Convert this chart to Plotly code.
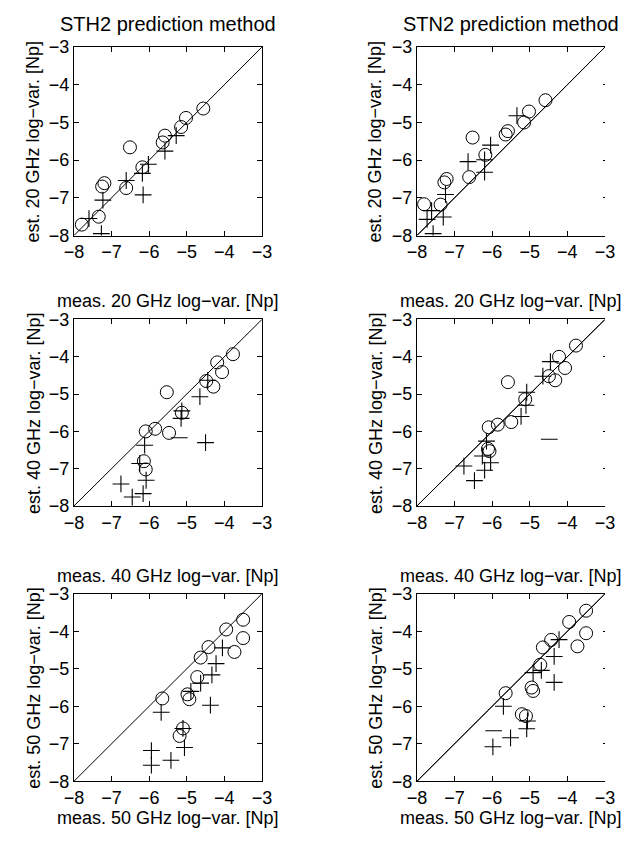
import plotly.graph_objects as go

W, H = 643, 845
AXIS_RANGE = [-8, -3]
TICKS = [-8, -7, -6, -5, -4, -3]

METHODS = ["STH2", "STN2"]
FREQS = [20, 40, 50]

# ---- STH2, 20 GHz ----
sth2_20_circ_x = [-7.79, -7.34, -7.25, -7.19, -6.61, -6.51, -6.18, -5.64, -5.58, -5.15, -5.02, -4.56]
sth2_20_circ_y = [-7.71, -7.50, -6.70, -6.61, -6.74, -5.66, -6.19, -5.53, -5.35, -5.12, -4.88, -4.63]
sth2_20_plus_x = [-7.60, -7.27, -7.23, -6.61, -6.16, -6.18, -6.02, -5.58, -5.28]
sth2_20_plus_y = [-7.55, -7.95, -7.06, -6.54, -6.92, -6.35, -6.11, -5.76, -5.35]
sth2_20_dash_x = []
sth2_20_dash_y = []

# ---- STN2, 20 GHz ----
stn2_20_circ_x = [-7.81, -7.37, -7.27, -7.21, -6.61, -6.52, -6.18, -5.64, -5.58, -5.15, -5.02, -4.58]
stn2_20_circ_y = [-7.17, -7.18, -6.59, -6.50, -6.45, -5.40, -5.86, -5.32, -5.23, -5.00, -4.71, -4.41]
stn2_20_plus_x = [-7.61, -7.73, -7.57, -7.30, -7.24, -6.64, -6.20, -6.20, -6.04, -5.34]
stn2_20_plus_y = [-7.34, -7.57, -7.95, -7.51, -6.91, -6.04, -6.32, -5.99, -5.60, -4.82]
stn2_20_dash_x = []
stn2_20_dash_y = []

# ---- STH2, 40 GHz ----
sth2_40_circ_x = [-6.14, -6.09, -6.09, -5.84, -5.53, -5.47, -5.13, -4.48, -4.29, -4.19, -4.06, -3.77]
sth2_40_circ_y = [-6.80, -7.02, -6.00, -5.93, -4.95, -6.04, -5.50, -4.65, -4.80, -4.15, -4.41, -3.93]
sth2_40_plus_x = [-6.75, -6.45, -6.16, -6.08, -6.25, -6.12, -5.15, -5.13, -4.65, -4.44, -4.50]
sth2_40_plus_y = [-7.41, -7.76, -7.67, -7.31, -6.86, -6.37, -5.65, -5.45, -5.07, -4.63, -6.30]
sth2_40_dash_x = [-5.20]
sth2_40_dash_y = [-6.17]

# ---- STN2, 40 GHz ----
stn2_40_circ_x = [-6.11, -6.07, -6.09, -5.85, -5.58, -5.49, -5.12, -4.49, -4.32, -4.22, -4.06, -3.77]
stn2_40_circ_y = [-6.47, -6.53, -5.89, -5.82, -4.68, -5.75, -5.14, -4.52, -4.63, -4.00, -4.30, -3.70]
stn2_40_plus_x = [-6.75, -6.47, -6.20, -6.04, -6.26, -6.15, -5.23, -5.10, -5.08, -4.65, -4.45]
stn2_40_plus_y = [-6.93, -7.32, -7.04, -6.84, -6.66, -6.26, -5.60, -5.30, -4.95, -4.52, -4.13]
stn2_40_dash_x = [-4.48]
stn2_40_dash_y = [-6.21]

# ---- STH2, 50 GHz ----
sth2_50_circ_x = [-5.65, -5.19, -5.10, -4.98, -4.93, -4.72, -4.63, -4.42, -3.95, -3.73, -3.50, -3.50]
sth2_50_circ_y = [-5.79, -6.79, -6.59, -5.68, -5.81, -5.22, -4.70, -4.42, -3.95, -4.55, -4.18, -3.69]
sth2_50_plus_x = [-5.94, -5.94, -5.42, -5.06, -5.68, -5.10, -4.89, -4.63, -4.33, -4.22, -4.37, -4.05]
sth2_50_plus_y = [-7.18, -7.57, -7.44, -7.10, -6.16, -6.59, -5.60, -5.38, -5.16, -4.86, -5.97, -4.44]
sth2_50_dash_x = []
sth2_50_dash_y = []

# ---- STN2, 50 GHz ----
stn2_50_circ_x = [-5.64, -5.21, -5.10, -4.95, -4.91, -4.72, -4.65, -4.43, -3.95, -3.73, -3.50, -3.50]
stn2_50_circ_y = [-5.65, -6.21, -6.26, -5.50, -5.59, -4.89, -4.43, -4.23, -3.75, -4.40, -4.05, -3.45]
stn2_50_plus_x = [-5.98, -5.51, -5.08, -5.06, -5.70, -4.91, -4.69, -4.35, -4.35, -4.22]
stn2_50_plus_y = [-7.08, -6.84, -6.60, -6.39, -6.00, -5.10, -5.04, -4.67, -5.36, -4.22]
stn2_50_dash_x = [-5.96]
stn2_50_dash_y = [-6.65]

panels = {
    ("STH2", 20): (sth2_20_circ_x, sth2_20_circ_y, sth2_20_plus_x, sth2_20_plus_y, sth2_20_dash_x, sth2_20_dash_y),
    ("STN2", 20): (stn2_20_circ_x, stn2_20_circ_y, stn2_20_plus_x, stn2_20_plus_y, stn2_20_dash_x, stn2_20_dash_y),
    ("STH2", 40): (sth2_40_circ_x, sth2_40_circ_y, sth2_40_plus_x, sth2_40_plus_y, sth2_40_dash_x, sth2_40_dash_y),
    ("STN2", 40): (stn2_40_circ_x, stn2_40_circ_y, stn2_40_plus_x, stn2_40_plus_y, stn2_40_dash_x, stn2_40_dash_y),
    ("STH2", 50): (sth2_50_circ_x, sth2_50_circ_y, sth2_50_plus_x, sth2_50_plus_y, sth2_50_dash_x, sth2_50_dash_y),
    ("STN2", 50): (stn2_50_circ_x, stn2_50_circ_y, stn2_50_plus_x, stn2_50_plus_y, stn2_50_dash_x, stn2_50_dash_y),
}

# pixel frames of the plot areas
COL_X = [(66, 260), (420, 614)]
ROW_Y = [(38, 231), (317, 508), (598, 790)]
XLABEL_Y = [298, 580, 828]
YLABEL_X = [24, 377]

FONT = "Liberation Sans, Arial, Helvetica, sans-serif"
TICK_SIZE = 18
LABEL_SIZE = 18
TITLE_SIZE = 20


def fx(px):
    return px / W


def fy(py):
    return 1 - py / H


fig = go.Figure()
annotations = []
layout_axes = {}

idx = 0
extra = 6  # index counter for the right-hand tick-only axes
for r, freq in enumerate(FREQS):
    for c, method in enumerate(METHODS):
        idx += 1
        xa = "x" if idx == 1 else f"x{idx}"
        ya = "y" if idx == 1 else f"y{idx}"
        cx, cy, px_, py_, dx, dy = panels[(method, freq)]

        # y = x reference line
        fig.add_trace(go.Scatter(x=AXIS_RANGE, y=AXIS_RANGE, mode="lines",
                                 line=dict(color="black", width=1),
                                 xaxis=xa, yaxis=ya, showlegend=False, hoverinfo="skip"))
        fig.add_trace(go.Scatter(x=cx, y=cy, mode="markers",
                                 marker=dict(symbol="circle-open", size=13,
                                             color="black", line=dict(width=1, color="black")),
                                 xaxis=xa, yaxis=ya, showlegend=False))
        fig.add_trace(go.Scatter(x=px_, y=py_, mode="markers",
                                 marker=dict(symbol="cross-thin-open", size=12,
                                             color="black", line=dict(width=1.1, color="black")),
                                 xaxis=xa, yaxis=ya, showlegend=False))
        if dx:
            fig.add_trace(go.Scatter(x=dx, y=dy, mode="markers",
                                     marker=dict(symbol="line-ew-open", size=12,
                                                 color="black", line=dict(width=1.1, color="black")),
                                     xaxis=xa, yaxis=ya, showlegend=False))

        x0, x1 = COL_X[c]
        y0, y1 = ROW_Y[r]
        common = dict(range=AXIS_RANGE, tickvals=TICKS, ticks="inside", ticklen=5,
                      tickwidth=1, tickcolor="black", showline=True, linecolor="black",
                      linewidth=1, showgrid=False, zeroline=False,
                      tickfont=dict(family=FONT, size=TICK_SIZE, color="black"))
        xkey = "xaxis" if idx == 1 else f"xaxis{idx}"
        ykey = "yaxis" if idx == 1 else f"yaxis{idx}"
        layout_axes[xkey] = dict(common, domain=[fx(x0), fx(x1)], anchor=ya, mirror="ticks")
        layout_axes[ykey] = dict(common, domain=[fy(y1), fy(y0)], anchor=xa,
                                 mirror="ticks" if c == 0 else False)

        if c == 1:
            # right edge of the right-hand panels: short tick stubs without a frame line
            extra += 1
            layout_axes[f"yaxis{extra}"] = dict(range=AXIS_RANGE, tickvals=TICKS, ticks="inside",
                                                ticklen=2, tickwidth=1, tickcolor="black",
                                                showline=False, showgrid=False, zeroline=False,
                                                showticklabels=False, side="right",
                                                overlaying=ya, anchor=xa,
                                                domain=[fy(y1), fy(y0)])
            fig.add_trace(go.Scatter(x=AXIS_RANGE, y=AXIS_RANGE, mode="lines",
                                     line=dict(color="black", width=1),
                                     xaxis=xa, yaxis=f"y{extra}", showlegend=False,
                                     hoverinfo="skip"))

        annotations.append(dict(text=f"meas. {freq} GHz log\u2212var. [Np]",
                                x=fx((x0 + x1) / 2), y=fy(XLABEL_Y[r]), xref="paper", yref="paper",
                                showarrow=False, xanchor="center", yanchor="middle",
                                font=dict(family=FONT, size=LABEL_SIZE, color="black")))
        annotations.append(dict(text=f"est. {freq} GHz log\u2212var. [Np]", textangle=-90,
                                x=fx(YLABEL_X[c]), y=fy((y0 + y1) / 2), xref="paper", yref="paper",
                                showarrow=False, xanchor="center", yanchor="middle",
                                font=dict(family=FONT, size=LABEL_SIZE, color="black")))
        if r == 0:
            annotations.append(dict(text=f"{method} prediction method",
                                    x=fx((x0 + x1) / 2), y=fy(14), xref="paper", yref="paper",
                                    showarrow=False, xanchor="center", yanchor="middle",
                                    font=dict(family=FONT, size=TITLE_SIZE, color="black")))

fig.update_layout(width=W, height=H, margin=dict(l=0, r=0, t=0, b=0),
                  paper_bgcolor="white", plot_bgcolor="white",
                  annotations=annotations, showlegend=False, **layout_axes)

fig.write_html("out.html")
